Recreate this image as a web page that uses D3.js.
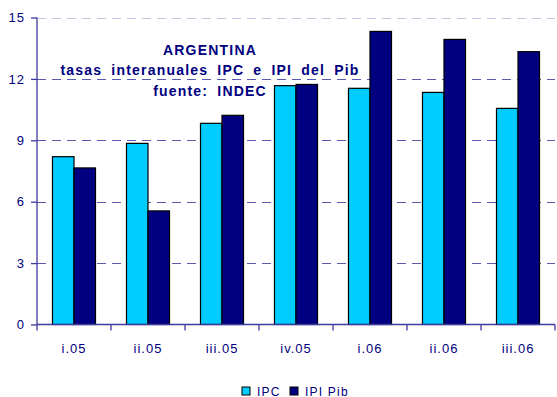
<!DOCTYPE html>
<html>
<head>
<meta charset="utf-8">
<script src="https://cdn.jsdelivr.net/npm/d3@7"></script>
<style>
  html, body { margin: 0; padding: 0; background: #fff; }
  svg { display: block; font-family: Arial, "Liberation Sans", sans-serif; }
</style>
</head>
<body>
<svg id="chart" width="557" height="397"></svg>
<script>
// Quarterly year-on-year rates, Argentina
const categories = ["i.05", "ii.05", "iii.05", "iv.05", "i.06", "ii.06", "iii.06"];
const ipc    = [8.2, 8.85, 9.83, 11.67, 11.54, 11.34, 10.56];
const ipiPib = [7.65, 5.55, 10.22, 11.73, 14.32, 13.93, 13.33];
const seriesNames = ["IPC", "IPI Pib"];
const yTicks = [0, 3, 6, 9, 12, 15];
const titleLines = ["ARGENTINA", "tasas interanuales IPC e IPI del Pib", "fuente: INDEC"];

const colors = ["#00ccff", "#000080"];
const axisColor = "#3c3ca0";
const textColor = "#000080";

const svg = d3.select("#chart");
const margin = { left: 37, right: 2, top: 17.5, bottom: 72.5 };
const W = 557, H = 397;

const x = d3.scaleBand().domain(categories).range([margin.left, W - margin.right]).paddingInner(0).paddingOuter(0);
const y = d3.scaleLinear().domain([0, 15]).range([H - margin.bottom, margin.top]);

const inner = d3.scaleBand().domain(seriesNames).range([0, x.bandwidth()]).paddingOuter(0.72).paddingInner(0);

// horizontal dashed gridlines
svg.append("g").selectAll("line")
  .data(yTicks.filter(d => d > 0))
  .join("line")
  .attr("x1", margin.left).attr("x2", W - margin.right)
  .attr("y1", d => Math.round(y(d)) + 0.5).attr("y2", d => Math.round(y(d)) + 0.5)
  .attr("stroke", d => d === 15 ? "#c4c4e4" : "#5a5aae")
  .attr("stroke-width", 1)
  .attr("stroke-dasharray", "9,6");

// bars
const rows = categories.map((c, i) => ({ cat: c, vals: [ipc[i], ipiPib[i]] }));
svg.append("g").selectAll("g")
  .data(rows)
  .join("g")
  .attr("transform", d => `translate(${x(d.cat)},0)`)
  .selectAll("rect")
  .data(d => d.vals.map((v, j) => ({ name: seriesNames[j], v, j })))
  .join("rect")
  .attr("x", d => inner(d.name))
  .attr("width", inner.bandwidth())
  .attr("y", d => y(d.v))
  .attr("height", d => y(0) - y(d.v))
  .attr("fill", d => colors[d.j])
  .attr("stroke", "#000")
  .attr("stroke-width", 1.2);

// y axis
const yAxis = svg.append("g")
  .attr("transform", `translate(${margin.left},0)`)
  .call(d3.axisLeft(y).tickValues(yTicks).tickSize(6).tickPadding(6).tickFormat(d3.format("d")));
yAxis.select(".domain").attr("stroke", axisColor).attr("stroke-width", 1.3).attr("d", `M0,${y(15)}V${y(0)}`);
yAxis.selectAll(".tick line").attr("stroke", axisColor).attr("stroke-width", 1.3);
yAxis.selectAll(".tick text").attr("fill", textColor).attr("font-size", 13)
  .attr("letter-spacing", "1px")
  .attr("font-family", "Arial, 'Liberation Sans', sans-serif");

// x axis with ticks at category boundaries
const xAxisG = svg.append("g").attr("transform", `translate(0,${y(0)})`);
xAxisG.append("line")
  .attr("x1", margin.left).attr("x2", W - margin.right)
  .attr("stroke", axisColor).attr("stroke-width", 1.3);
const bounds = categories.map(c => x(c)).concat([x(categories[categories.length - 1]) + x.bandwidth()]);
xAxisG.selectAll("line.tk").data(bounds).join("line")
  .attr("class", "tk")
  .attr("x1", d => d).attr("x2", d => d)
  .attr("y1", 0).attr("y2", 6)
  .attr("stroke", axisColor).attr("stroke-width", 1.3);
xAxisG.selectAll("text").data(categories).join("text")
  .attr("x", d => x(d) + x.bandwidth() / 2)
  .attr("y", 28)
  .attr("text-anchor", "middle")
  .attr("fill", textColor)
  .attr("font-size", 13)
  .attr("letter-spacing", "1px")
  .text(d => d);

// title block
svg.append("g").selectAll("text").data(titleLines).join("text")
  .attr("x", 210)
  .attr("y", (d, i) => [55, 75, 96][i])
  .attr("text-anchor", "middle")
  .attr("fill", textColor)
  .attr("font-size", 14)
  .attr("font-weight", "bold")
  .attr("letter-spacing", "1.2px")
  .attr("word-spacing", "4px")
  .text(d => d);

// legend
const legend = svg.append("g").attr("transform", "translate(242,387)");
const legendX = [0, 48];
const li = legend.selectAll("g").data(seriesNames).join("g")
  .attr("transform", (d, i) => `translate(${legendX[i]},0)`);
li.append("rect")
  .attr("width", 8).attr("height", 8)
  .attr("fill", (d, i) => colors[i])
  .attr("stroke", "#000").attr("stroke-width", 1);
li.append("text")
  .attr("x", 15).attr("y", 8.5)
  .attr("fill", textColor)
  .attr("font-size", 12)
  .attr("letter-spacing", "1.2px")
  .text(d => d);
</script>
</body>
</html>
